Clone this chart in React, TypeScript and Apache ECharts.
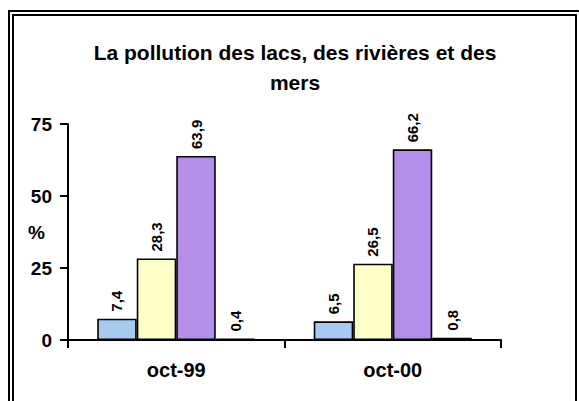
import React, { useEffect, useRef } from "react";
import * as echarts from "echarts";

const categories = ["oct-99", "oct-00"];
const seriesNames = ["Série 1", "Série 2", "Série 3", "Série 4"];
const serie1 = [7.4, 6.5];
const serie2 = [28.3, 26.5];
const serie3 = [63.9, 66.2];
const serie4 = [0.4, 0.8];
const colors = ["#a6caf0", "#ffffc8", "#b38eea", "#ff8080"];
const titleText = "La pollution des lacs, des rivières et des\nmers";
const yTicks = { min: 0, max: 75, interval: 25 };

export default function App() {
  const ref = useRef<HTMLDivElement>(null);
  useEffect(() => {
    if (!ref.current) return;
    const chart = echarts.init(ref.current, null, { renderer: "svg" });
    const font = "Arial, 'Liberation Sans', sans-serif";
    const allData = [serie1, serie2, serie3, serie4];
    chart.setOption({
      animation: false,
      backgroundColor: "#ffffff",
      title: {
        text: titleText,
        left: 295,
        top: 37,
        padding: 0,
        textAlign: "center",
        textStyle: {
          fontFamily: font,
          fontWeight: "bold",
          fontSize: 21,
          lineHeight: 30,
          color: "#000",
        },
      },
      grid: { left: 68, top: 124, right: 78, bottom: 61 },
      xAxis: {
        type: "category",
        data: categories,
        boundaryGap: true,
        axisLine: { show: true, lineStyle: { color: "#000", width: 2 } },
        axisTick: { show: true, length: 8, lineStyle: { color: "#000", width: 2 } },
        axisLabel: {
          margin: 20,
          fontFamily: font,
          fontWeight: "bold",
          fontSize: 20,
          color: "#000",
        },
        splitLine: { show: false },
      },
      yAxis: {
        type: "value",
        min: yTicks.min,
        max: yTicks.max,
        interval: yTicks.interval,
        axisLine: { show: true, lineStyle: { color: "#000", width: 2 } },
        axisTick: { show: true, length: 8, lineStyle: { color: "#000", width: 2 } },
        axisLabel: {
          margin: 16,
          fontFamily: font,
          fontWeight: "bold",
          fontSize: 19,
          color: "#000",
        },
        splitLine: { show: false },
      },
      series: allData.map((d, i) => ({
        name: seriesNames[i],
        type: "bar",
        data: d,
        barGap: "0%",
        barCategoryGap: "27%",
        itemStyle: { color: colors[i], borderColor: "#000", borderWidth: 1.6 },
        label: {
          show: true,
          position: "top",
          rotate: 90,
          align: "left",
          verticalAlign: "middle",
          distance: 7,
          fontFamily: font,
          fontWeight: "bold",
          fontSize: 15,
          color: "#000",
          formatter: (p: any) => String(p.value).replace(".", ","),
        },
      })),
      graphic: [
        {
          type: "rect",
          shape: { x: 9, y: 11, width: 580, height: 400 },
          style: { fill: "none", stroke: "#000", lineWidth: 2 },
          silent: true,
        },
        {
          type: "rect",
          shape: { x: 13, y: 15, width: 563, height: 400 },
          style: { fill: "none", stroke: "#000", lineWidth: 2 },
          silent: true,
        },
        {
          type: "text",
          x: 36.5,
          y: 232,
          style: {
            text: "%",
            font: "bold 19px Arial, 'Liberation Sans', sans-serif",
            fill: "#000",
            textAlign: "center",
            textVerticalAlign: "middle",
          },
        },
      ],
    });
    return () => chart.dispose();
  }, []);
  return (
    <div
      ref={ref}
      style={{ position: "absolute", left: 0, top: 0, width: 579, height: 401 }}
    />
  );
}
